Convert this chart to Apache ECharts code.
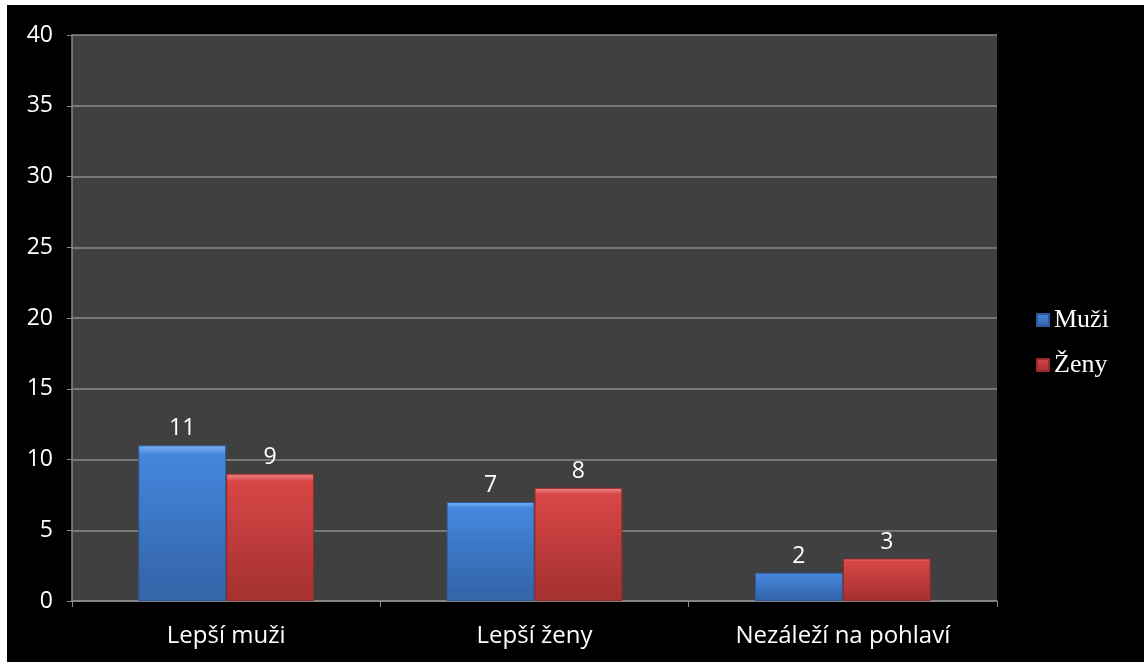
<!DOCTYPE html>
<html>
<head>
<meta charset="utf-8">
<script src="https://cdn.jsdelivr.net/npm/echarts@6/dist/echarts.min.js"></script>
<style>
  html, body { margin: 0; padding: 0; background: #fff; }
  #chart { position: absolute; left: 7px; top: 5px; width: 1137px; height: 657px; background: #000; }
</style>
</head>
<body>
<div id="chart"></div>
<script>
const categories = ['Lepší muži', 'Lepší ženy', 'Nezáleží na pohlaví'];
const muzi = [11, 7, 2];
const zeny = [9, 8, 3];
const seriesNames = ['Muži', 'Ženy'];

const chart = echarts.init(document.getElementById('chart'));

// bevel-ish fill, light top edge and darker bottom
const fill = (light, mid, dark) => new echarts.graphic.LinearGradient(0, 0, 0, 1, [
  { offset: 0, color: light },
  { offset: 0.06, color: mid },
  { offset: 0.9, color: dark },
  { offset: 1, color: dark }
]);

const labelStyle = {
  show: true,
  position: 'top',
  distance: 5,
  color: '#fff',
  fontSize: 23,
  fontFamily: 'Open Sans'
};

chart.setOption({
  backgroundColor: '#000',
  animation: false,
  grid: {
    left: 65, top: 30, right: 147, bottom: 61,
    show: true, backgroundColor: '#404040', borderWidth: 0
  },
  legend: {
    orient: 'vertical',
    left: 1024,
    top: 297,
    itemWidth: 12,
    itemHeight: 12,
    itemGap: 19,
    icon: 'rect',
    textStyle: { color: '#fff', fontSize: 26, fontFamily: 'Liberation Serif' },
    data: seriesNames
  },
  xAxis: {
    type: 'category',
    data: categories,
    axisLine: { lineStyle: { color: '#8a8a8a', width: 1.5 } },
    axisTick: { show: true, length: 6, lineStyle: { color: '#8a8a8a' } },
    axisLabel: { color: '#fff', fontSize: 24, fontFamily: 'Open Sans', margin: 23 }
  },
  yAxis: {
    type: 'value',
    min: 0,
    max: 40,
    interval: 5,
    axisLine: { show: true, lineStyle: { color: '#8a8a8a', width: 1.5 } },
    axisTick: { show: true, length: 5, lineStyle: { color: '#8a8a8a' } },
    axisLabel: { color: '#fff', fontSize: 23, fontFamily: 'Open Sans', margin: 19 },
    splitLine: { lineStyle: { color: '#8a8a8a', width: 1.5 } }
  },
  series: [
    {
      name: seriesNames[0],
      type: 'bar',
      data: muzi,
      barGap: '0%',
      barCategoryGap: '43%',
      itemStyle: { color: fill('#7db4f2', '#4587dc', '#3466ac'), borderColor: '#2c5a9c', borderWidth: 1 },
      label: labelStyle
    },
    {
      name: seriesNames[1],
      type: 'bar',
      data: zeny,
      itemStyle: { color: fill('#f08a8a', '#d84646', '#a83232'), borderColor: '#962a2a', borderWidth: 1 },
      label: labelStyle
    }
  ]
});
</script>
</body>
</html>
